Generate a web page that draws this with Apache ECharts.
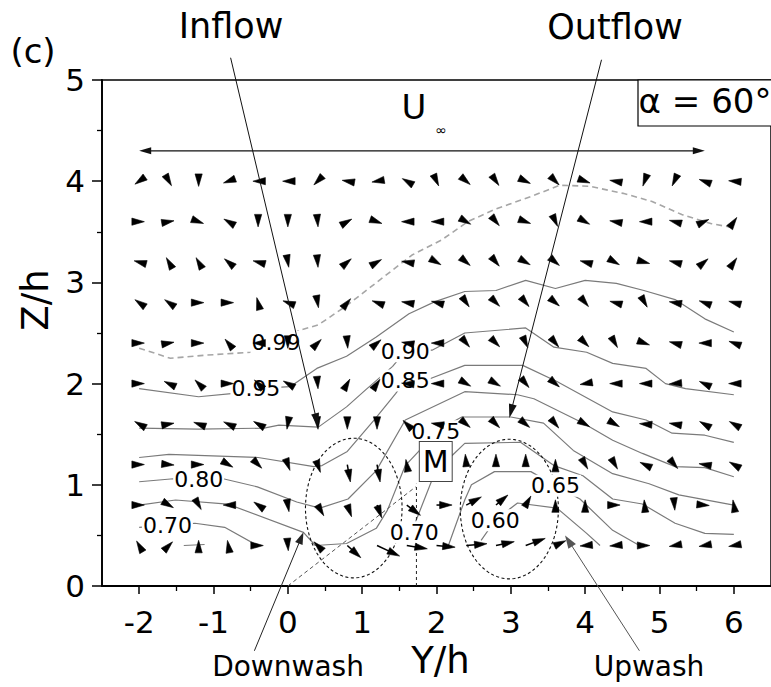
<!DOCTYPE html>
<html><head><meta charset="utf-8">
<script src="https://cdn.jsdelivr.net/npm/echarts@6/dist/echarts.min.js"></script>
<style>html,body{margin:0;padding:0;background:#fff}#c{width:771px;height:687px}</style>
</head><body><div id="c"></div>
<script>
const FONT = 'DejaVu Sans';

// ---------- axes ----------
const xTicks = [-2, -1, 0, 1, 2, 3, 4, 5, 6];
const xMinorTicks = [-1.5, -0.5, 0.5, 1.5, 2.5, 3.5, 4.5, 5.5];

// ---------- vector field ----------
const xCols = [-2.0,-1.6,-1.2,-0.8,-0.4,0.0,0.4,0.8,1.2,1.6,2.0,2.4,2.8,3.2,3.6,4.0,4.4,4.8,5.2,5.6,6.0];
const zRows = [4.0, 3.6, 3.2, 2.8, 2.4, 2.0, 1.6, 1.2, 0.8, 0.4];
// direction of each vector (degrees, 0 = +Y/h, 90 = +Z/h)
const angleRows = [
  [215,300,270,200,180,180,225,170,190,150,295,320,305,335,315,340,170,250,245,160,175],
  [0,10,340,150,270,270,275,30,340,180,180,330,310,340,295,330,170,180,165,25,55],
  [165,120,120,140,165,280,275,40,30,170,330,320,310,330,320,165,330,345,165,40,55],
  [145,145,0,0,105,160,280,50,160,170,165,305,315,310,320,310,165,300,170,160,165],
  [0,10,0,130,180,270,45,275,40,170,180,310,315,295,310,315,300,340,165,180,160],
  [0,155,135,0,135,150,275,60,55,175,180,330,330,310,320,190,180,180,185,155,180],
  [150,10,160,155,150,260,275,270,270,135,170,320,315,320,310,330,330,175,170,150,150],
  [0,355,0,330,315,290,290,280,280,100,90,95,90,90,90,300,300,155,310,170,150],
  [0,330,300,180,145,280,300,290,290,323,0,28,40,60,90,90,0,95,275,355,100],
  [120,45,90,100,0,275,135,318,335,351,355,5,12,20,25,185,185,0,190,190,190]
];
// relative in-plane speed of each vector
const magRows = [
  [1,1,1,1,1,1,1,1,1,1,1,1,1,1,1,1,1,1,1,1,1],
  [1,1,1,1,1,1,1,1,1,1,1,1,1,1,1,1,1,1,1,1,1],
  [1,1,1,1,1,1,1,1,1,1,1,1,1,1,1,1,1,1,1,1,1],
  [1,1,1,1,1,1,1,1,1,1,1,1,1,1,1,1,1,1,1,1,1],
  [1,1,1,1,1,1,1,1,1,1,1,1,1,1,1,1,1,1,1,1,1],
  [1,1,1,1,1,1,1,1,1,1,1,1,1,1,1,1,1,1,1,1,1],
  [1,1,1,1,1,1,1,1,1,1,1,1,1,1,1,1,1,1,1,1,1],
  [1,1,1,1,1,1.2,1.6,3.4,3.4,1,1,2,2,2,1,1,1,1,1,1,1],
  [1,1,1,1,1,1.3,2.4,2.4,2.6,3.3,3,3.3,3,2,1,1,1,1,1,1,1],
  [1,1,1,1,1,1,1,3.5,4.8,4,3.6,4,3.6,4,2.2,1,1,1,1,1,1]
];

// ---------- contours (Y/h, Z/h) ----------
const contour099 = [[-2.0,2.35],[-1.58,2.25],[-1.12,2.28],[-0.5,2.31],[-0.16,2.41],[0.17,2.53],[0.41,2.58],[0.79,2.77],[1.23,3.02],[1.67,3.27],[2.07,3.42],[2.42,3.6],[2.78,3.72],[3.31,3.86],[3.66,3.96],[4.06,3.95],[4.51,3.88],[4.9,3.8],[5.3,3.67],[5.7,3.58],[6.0,3.54]];
const contour095 = [[-2.0,1.95],[-1.2,1.87],[-0.76,1.9],[-0.43,1.95],[0.03,1.97],[0.39,2.15],[0.79,2.27],[1.19,2.46],[1.63,2.69],[1.98,2.81],[2.38,2.91],[2.8,2.92],[3.2,3.02],[3.6,2.94],[4.0,3.02],[4.42,2.99],[4.79,2.92],[5.21,2.83],[5.61,2.64],[6.0,2.51]];
const contour090 = [[-2.0,1.56],[-1.2,1.55],[-0.32,1.56],[-0.12,1.59],[0.41,1.57],[0.79,1.77],[1.05,1.94],[1.41,2.17],[1.58,2.32],[1.94,2.33],[2.38,2.5],[3.2,2.55],[3.58,2.36],[4.02,2.31],[4.37,2.2],[4.82,2.15],[5.08,2.0],[5.35,1.95],[6.0,1.89]];
const contour085 = [[-2.0,1.27],[-1.6,1.3],[-0.4,1.27],[0.35,1.18],[0.46,1.19],[0.8,1.33],[1.16,1.64],[1.45,1.9],[1.58,2.03],[1.92,2.05],[2.38,2.18],[3.16,2.18],[3.62,2.02],[4.37,1.72],[4.82,1.64],[5.17,1.51],[5.61,1.49],[6.0,1.42]];
const contour080 = [[-2.0,1.03],[-1.54,1.06],[-1.2,1.05],[-0.87,1.06],[-0.41,0.98],[0.12,0.83],[0.43,0.77],[0.81,0.86],[1.19,1.14],[1.58,1.64],[2.38,1.92],[3.09,1.89],[3.31,1.85],[3.97,1.61],[4.37,1.44],[4.77,1.31],[5.21,1.18],[5.61,1.17],[6.0,1.08]];
const contour075 = [[-2.0,0.8],[-1.51,0.85],[-0.81,0.81],[0.21,0.53],[0.37,0.40],[0.79,0.42],[1.19,0.57],[1.34,0.75],[1.58,1.19],[1.76,1.33],[1.99,1.53],[2.34,1.67],[3.0,1.67],[3.44,1.61],[3.84,1.34],[4.37,1.11],[4.86,1.01],[5.26,0.9],[6.0,0.8]];
const contour070Left = [[-2.0,0.58],[-1.62,0.60],[-1.25,0.62],[-0.85,0.58],[-0.41,0.40]];
const contour070 = [[1.70,0.60],[1.93,1.03],[2.21,1.29],[2.38,1.41],[3.13,1.42],[3.58,1.19],[3.97,1.09],[4.37,0.86],[4.77,0.81],[5.21,0.62],[5.61,0.52],[6.0,0.51]];
const contour065 = [[2.16,0.4],[2.38,0.85],[2.47,1.0],[2.78,1.13],[3.27,1.13],[3.6,0.99],[3.93,0.86],[4.37,0.55],[4.73,0.4]];
const contour060 = [[2.6,0.45],[2.79,0.65],[3.09,0.82],[3.62,0.77],[4.02,0.52],[4.2,0.4]];
const contourBit = [[-1.4,0.40],[-1.12,0.41]];

const contourLabelText = ['0.99','0.95','0.90','0.85','0.80','0.75','0.70','0.70','0.65','0.60'];
const contourLabelY_h  = [-0.16,-0.43,1.58,1.58,-1.2,1.99,-1.62,1.70,3.60,2.79];
const contourLabelZ_h  = [2.41,1.95,2.32,2.03,1.05,1.53,0.60,0.53,0.99,0.65];

// ---------- annotations (Y/h, Z/h) ----------
const pointM = [1.99, 1.23];
const mVertical = [[1.73, 0], [1.73, 1.01]];
const mDiagonal = [[0, 0], [1.72, 0.98]];
const downwashRegion = [0.887, 0.77, 0.65, 0.69];   // centre Y, centre Z, half-width, half-height
const upwashRegion = [2.98, 0.76, 0.66, 0.69];
const inflowArrow = [-0.77, 5.22, 0.41, 1.57];
const outflowArrow = [4.22, 5.20, 2.98, 1.66];
const downwashArrow = [-0.45, -0.64, 0.21, 0.53];
const upwashArrow = [4.73, -0.64, 3.73, 0.50];
const freeStreamArrow = [-2.0, 4.30, 5.61, 4.30];

// ---------- build ----------
const vectorData = [];
zRows.forEach((z, r) => xCols.forEach((x, c) => vectorData.push([x, z, angleRows[r][c], magRows[r][c]])));

function headPts(tip, ux, uy, len, hw) {
  const bx = tip[0] - ux * len, by = tip[1] - uy * len;
  return [[tip[0], tip[1]], [bx - uy * hw, by + ux * hw], [bx + uy * hw, by - ux * hw]];
}
function renderVector(params, api) {
  const p = api.coord([api.value(0), api.value(1)]);
  const a = api.value(2) * Math.PI / 180;
  const ux = Math.cos(a), uy = -Math.sin(a);
  const L = api.value(3) * 5.2;
  const tip = [p[0] + ux * L, p[1] + uy * L];
  const headLen = 12.5, hw = 3.6;
  const ch = [];
  if (L > headLen) {
    ch.push({type: 'line', shape: {x1: p[0], y1: p[1], x2: tip[0] - ux * headLen * 0.7, y2: tip[1] - uy * headLen * 0.7},
      style: {stroke: '#000', lineWidth: 1.5}});
  }
  ch.push({type: 'polygon', shape: {points: headPts(tip, ux, uy, headLen, hw)}, style: {fill: '#000', stroke: '#000', lineWidth: 0.6}});
  return {type: 'group', children: ch};
}

const calloutLook = [
  {color: '#111', head: 14, hw: 4, both: false, w: 1},
  {color: '#111', head: 14, hw: 4, both: false, w: 1},
  {color: '#222', head: 12, hw: 4, both: false, w: 1},
  {color: '#555', head: 13, hw: 4.5, both: false, w: 1},
  {color: '#111', head: 12, hw: 3.5, both: true, w: 1.3}
];
function renderCallout(params, api) {
  const a = api.coord([api.value(0), api.value(1)]);
  const b = api.coord([api.value(2), api.value(3)]);
  const s = calloutLook[params.dataIndex];
  let dx = b[0] - a[0], dy = b[1] - a[1];
  const d = Math.hypot(dx, dy); dx /= d; dy /= d;
  const start = s.both ? [a[0] + dx * s.head * 0.7, a[1] + dy * s.head * 0.7] : a;
  const end = [b[0] - dx * s.head * 0.7, b[1] - dy * s.head * 0.7];
  const ch = [
    {type: 'line', shape: {x1: start[0], y1: start[1], x2: end[0], y2: end[1]}, style: {stroke: s.color, lineWidth: s.w}},
    {type: 'polygon', shape: {points: headPts(b, dx, dy, s.head, s.hw)}, style: {fill: s.color}}
  ];
  if (s.both) ch.push({type: 'polygon', shape: {points: headPts(a, -dx, -dy, s.head, s.hw)}, style: {fill: s.color}});
  return {type: 'group', children: ch};
}
function renderRegion(params, api) {
  const c = api.coord([api.value(0), api.value(1)]);
  const s = api.size([api.value(2), api.value(3)]);
  const rx = Math.abs(s[0]), ry = Math.abs(s[1]);
  const pts = [];
  for (let i = 0; i < 90; i++) {
    const t = i / 90 * 2 * Math.PI;
    pts.push([c[0] + rx * Math.cos(t), c[1] + ry * Math.sin(t)]);
  }
  return {type: 'polygon', shape: {points: pts}, style: {fill: 'none', stroke: '#111', lineWidth: 1.1, lineDash: [3, 2.5]}};
}
function renderLabel(params, api) {
  const p = api.coord([api.value(0), api.value(1)]);
  return {type: 'text', x: p[0], y: p[1], style: {text: contourLabelText[params.dataIndex], fontSize: 22, fontFamily: FONT,
    fill: '#000', align: 'center', verticalAlign: 'middle', backgroundColor: '#fff', padding: [0, 1]}};
}
function renderM(params, api) {
  const p = api.coord([api.value(0), api.value(1)]);
  return {type: 'text', x: p[0], y: p[1], style: {text: 'M', fontSize: 30, fontFamily: FONT, fill: '#000',
    align: 'center', verticalAlign: 'middle', backgroundColor: '#fff', borderColor: '#444', borderWidth: 1, padding: [5, 3, 4, 3]}};
}

function contourSeries(data, dashed) {
  return {type: 'line', data: data, symbol: 'none', silent: true, z: 2, animation: false,
    lineStyle: dashed ? {color: '#a6a6a6', width: 1.6, type: [6, 4]} : {color: '#7a7a7a', width: 1.2}};
}

const chart = echarts.init(document.getElementById('c'), null, {renderer: 'svg'});
chart.setOption({
  animation: false,
  backgroundColor: '#fff',
  grid: {left: 102, top: 80, right: -9, bottom: 101, show: true, borderColor: '#000', borderWidth: 1.5},
  xAxis: [{
    type: 'value', min: -2.5, max: 6.5, position: 'bottom',
    axisLine: {show: true, onZero: false, lineStyle: {color: '#000', width: 1.8}},
    axisTick: {show: true, customValues: xTicks, length: 8, lineStyle: {color: '#000', width: 1.5}},
    axisLabel: {customValues: xTicks, fontSize: 31, fontFamily: FONT, color: '#000', margin: 20},
    splitLine: {show: false},
    name: 'Y/h', nameLocation: 'middle', nameGap: 54,
    nameTextStyle: {fontSize: 37, fontFamily: FONT, color: '#000', padding: [0, 0, 0, 8]}
  }, {
    type: 'value', min: -2.5, max: 6.5, position: 'bottom',
    axisLine: {show: false},
    axisTick: {show: true, customValues: xMinorTicks, length: 5, lineStyle: {color: '#000', width: 1.3}},
    axisLabel: {show: false}, splitLine: {show: false}
  }],
  yAxis: {
    type: 'value', min: 0, max: 5, interval: 1,
    axisLine: {show: true, onZero: false, lineStyle: {color: '#000', width: 1.8}},
    axisTick: {show: true, length: 10, lineStyle: {color: '#000', width: 1.5}},
    minorTick: {show: true, splitNumber: 2, length: 5, lineStyle: {color: '#000', width: 1.3}},
    axisLabel: {fontSize: 31, fontFamily: FONT, color: '#000', margin: 17},
    splitLine: {show: false},
    name: 'Z/h', nameLocation: 'middle', nameGap: 46,
    nameTextStyle: {fontSize: 37, fontFamily: FONT, color: '#000', padding: [0, 0, 0, 66]}
  },
  series: [
    contourSeries(contour099, true),
    contourSeries(contour095), contourSeries(contour090), contourSeries(contour085),
    contourSeries(contour080), contourSeries(contour075), contourSeries(contour070Left),
    contourSeries(contour070), contourSeries(contour065), contourSeries(contour060), contourSeries(contourBit),
    {type: 'line', data: mVertical, symbol: 'none', silent: true, z: 3, lineStyle: {color: '#222', width: 1, type: [3, 3]}},
    {type: 'line', data: mDiagonal, symbol: 'none', silent: true, z: 3, lineStyle: {color: '#555', width: 1, type: [4, 3]}},
    {type: 'custom', renderItem: renderRegion, data: [downwashRegion, upwashRegion], z: 3, silent: true, encode: {x: 0, y: 1}},
    {type: 'custom', renderItem: renderLabel, data: contourLabelY_h.map((v, i) => [v, contourLabelZ_h[i]]), z: 4, silent: true, encode: {x: 0, y: 1}},
    {type: 'custom', renderItem: renderVector, data: vectorData, z: 5, silent: true, encode: {x: 0, y: 1}},
    {type: 'custom', renderItem: renderCallout, data: [inflowArrow, outflowArrow, downwashArrow, upwashArrow, freeStreamArrow], z: 6, silent: true, clip: false, encode: {x: 0, y: 1}},
    {type: 'custom', renderItem: renderM, data: [pointM], z: 7, silent: true, encode: {x: 0, y: 1}}
  ],
  graphic: [
    {type: 'text', x: 33, y: 51, style: {text: '(c)', fontSize: 34, fontFamily: FONT, fill: '#000', align: 'center', verticalAlign: 'middle'}},
    {type: 'text', x: 231, y: 26, style: {text: 'Inflow', fontSize: 35, fontFamily: FONT, fill: '#000', align: 'center', verticalAlign: 'middle'}},
    {type: 'text', x: 615, y: 27, style: {text: 'Outflow', fontSize: 35, fontFamily: FONT, fill: '#000', align: 'center', verticalAlign: 'middle'}},
    {type: 'text', x: 414, y: 107, style: {text: 'U', fontSize: 34, fontFamily: FONT, fill: '#000', align: 'center', verticalAlign: 'middle'}},
    {type: 'text', x: 441, y: 130, style: {text: '∞', fontSize: 14, fontFamily: FONT, fill: '#000', align: 'center', verticalAlign: 'middle'}},
    {type: 'rect', shape: {x: 638, y: 80, width: 140, height: 46}, style: {fill: '#fff', stroke: '#000', lineWidth: 1.2}, z: 10},
    {type: 'text', x: 705, y: 101, z: 11, style: {text: 'α = 60°', fontSize: 34, fontFamily: FONT, fill: '#000', align: 'center', verticalAlign: 'middle'}},
    {type: 'text', x: 288, y: 666, style: {text: 'Downwash', fontSize: 28, fontFamily: FONT, fill: '#000', align: 'center', verticalAlign: 'middle'}},
    {type: 'text', x: 649, y: 666, style: {text: 'Upwash', fontSize: 28, fontFamily: FONT, fill: '#000', align: 'center', verticalAlign: 'middle'}}
  ]
});
</script></body></html>
